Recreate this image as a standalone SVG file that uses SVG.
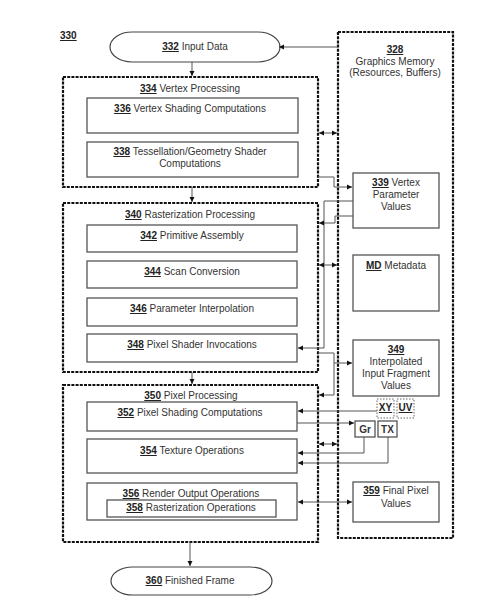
<svg xmlns="http://www.w3.org/2000/svg" width="491" height="612" viewBox="0 0 491 612">
<defs>
<style>
text{font-family:"Liberation Sans",Arial,sans-serif;font-size:10px;fill:#333;text-anchor:middle}
.n{font-weight:bold;text-decoration:underline;fill:#222}
.outer{fill:none;stroke:#111;stroke-width:2.2;stroke-dasharray:3 1.2}
.inner{fill:#fff;stroke:#555;stroke-width:1.3}
.dash{fill:#fff;stroke:#666;stroke-width:1;stroke-dasharray:1.5 1.5}
.pill{fill:#fff;stroke:#444;stroke-width:1.2}
.c{fill:none;stroke:#555;stroke-width:1}
</style>
<marker id="a" markerWidth="6" markerHeight="6" refX="5" refY="3" orient="auto-start-reverse" markerUnits="userSpaceOnUse">
<path d="M0,0.5 L5,3 L0,5.5 Z" fill="#111"/>
</marker>
</defs>
<rect width="491" height="612" fill="#fff"/>
<text x="60" y="39" class="n" style="text-anchor:start">330</text>

<g id="memory">
<rect class="outer" x="338" y="32" width="115" height="506"/>
<text x="395" y="53" class="n">328</text>
<text x="395" y="65">Graphics Memory</text>
<text x="395" y="76">(Resources, Buffers)</text>
</g>
<g id="input">
<rect class="pill" x="110" y="32" width="170" height="30" rx="22" ry="15"/>
<text x="195" y="50"><tspan class="n">332</tspan> Input Data</text>
</g>
<g id="vertex">
<rect class="outer" x="63" y="77" width="255" height="110"/>
<text x="190" y="92"><tspan class="n">334</tspan> Vertex Processing</text>
</g>
<g id="n336">
<rect class="inner" x="87" y="98" width="211" height="35"/>
<text x="190" y="112"><tspan class="n">336</tspan> Vertex Shading Computations</text>
</g>
<g id="n338">
<rect class="inner" x="87" y="142" width="211" height="35"/>
<text x="190" y="155"><tspan class="n">338</tspan> Tessellation/Geometry Shader</text>
<text x="190" y="167">Computations</text>
</g>
<g id="raster">
<rect class="outer" x="63" y="203" width="255" height="169"/>
<text x="190" y="218"><tspan class="n">340</tspan> Rasterization Processing</text>
</g>
<g id="n342">
<rect class="inner" x="87" y="225" width="210" height="27"/>
<text x="192" y="239"><tspan class="n">342</tspan> Primitive Assembly</text>
</g>
<g id="n344">
<rect class="inner" x="87" y="261" width="210" height="27"/>
<text x="192" y="275"><tspan class="n">344</tspan> Scan Conversion</text>
</g>
<g id="n346">
<rect class="inner" x="87" y="298" width="210" height="28"/>
<text x="192" y="312"><tspan class="n">346</tspan> Parameter Interpolation</text>
</g>
<g id="n348">
<rect class="inner" x="87" y="334" width="210" height="28"/>
<text x="192" y="348"><tspan class="n">348</tspan> Pixel Shader Invocations</text>
</g>
<g id="pixel">
<rect class="outer" x="63" y="385" width="255" height="157"/>
<text x="191" y="399"><tspan class="n">350</tspan> Pixel Processing</text>
</g>
<g id="n352">
<rect class="inner" x="87" y="402" width="210" height="29"/>
<text x="190" y="416"><tspan class="n">352</tspan> Pixel Shading Computations</text>
</g>
<g id="n354">
<rect class="inner" x="87" y="439" width="210" height="34"/>
<text x="192" y="454"><tspan class="n">354</tspan> Texture Operations</text>
</g>
<g id="n356">
<rect class="inner" x="87" y="483" width="210" height="37"/>
<text x="191" y="497"><tspan class="n">356</tspan> Render Output Operations</text>
</g>
<g id="n358">
<rect class="inner" x="107" y="500" width="169" height="17"/>
<text x="191" y="511"><tspan class="n">358</tspan> Rasterization Operations</text>
</g>
<g id="finished">
<rect class="pill" x="111" y="567" width="161" height="28" rx="22" ry="14"/>
<text x="190" y="584"><tspan class="n">360</tspan> Finished Frame</text>
</g>
<g id="n339">
<rect class="inner" x="353" y="173" width="86" height="55"/>
<text x="396" y="186"><tspan class="n">339</tspan> Vertex</text>
<text x="396" y="198">Parameter</text>
<text x="396" y="210">Values</text>
</g>
<g id="md">
<rect class="inner" x="353" y="255" width="86" height="56"/>
<text x="396" y="269"><tspan class="n">MD</tspan> Metadata</text>
</g>
<g id="n349">
<rect class="inner" x="353" y="340" width="86" height="56"/>
<text x="396" y="353" class="n">349</text>
<text x="396" y="365">Interpolated</text>
<text x="396" y="377">Input Fragment</text>
<text x="396" y="389">Values</text>
</g>
<g id="xy">
<rect class="dash" x="377" y="399" width="17" height="19"/>
<text x="385.5" y="411" class="n">XY</text>
</g>
<g id="uv">
<rect class="dash" x="397" y="399" width="17" height="19"/>
<text x="405.5" y="411" class="n">UV</text>
</g>
<g id="gr">
<rect class="inner" x="355" y="421" width="20" height="16"/>
<text x="365" y="433" style="font-weight:bold">Gr</text>
</g>
<g id="tx">
<rect class="inner" x="378" y="421" width="19" height="16"/>
<text x="387.5" y="433" style="font-weight:bold">TX</text>
</g>
<g id="n359">
<rect class="inner" x="353" y="482" width="86" height="40"/>
<text x="396" y="494"><tspan class="n">359</tspan> Final Pixel</text>
<text x="396" y="507">Values</text>
</g>

<g id="connectors">
<path class="c" d="M338,47 H279" marker-end="url(#a)"/>
<path class="c" d="M192,62 V76" marker-end="url(#a)"/>
<path class="c" d="M192,187 V202" marker-end="url(#a)"/>
<path class="c" d="M192,372 V384" marker-end="url(#a)"/>
<path class="c" d="M190,542 V566" marker-end="url(#a)"/>
<path class="c" d="M319,133 H337" marker-start="url(#a)" marker-end="url(#a)"/>
<path class="c" d="M318,177 H334 V187 H352" marker-end="url(#a)"/>
<path class="c" d="M353,201 H324 V348 H298" marker-end="url(#a)"/>
<path class="c" d="M353,216 H335 V223 H319" marker-end="url(#a)"/>
<path class="c" d="M319,265 H337" marker-start="url(#a)" marker-end="url(#a)"/>
<path class="c" d="M318,353 H334 V363 H352" marker-end="url(#a)"/>
<path class="c" d="M334,363 V395 H319" marker-end="url(#a)"/>
<path class="c" d="M377,411 H298" marker-end="url(#a)"/>
<path class="c" d="M297,423 H354" marker-end="url(#a)"/>
<path class="c" d="M319,444 H337" marker-start="url(#a)" marker-end="url(#a)"/>
<path class="c" d="M364,437 V453 H298" marker-end="url(#a)"/>
<path class="c" d="M388,437 V463 H298" marker-end="url(#a)"/>
<path class="c" d="M298,502 H352" marker-start="url(#a)" marker-end="url(#a)"/>
</g>
</svg>
